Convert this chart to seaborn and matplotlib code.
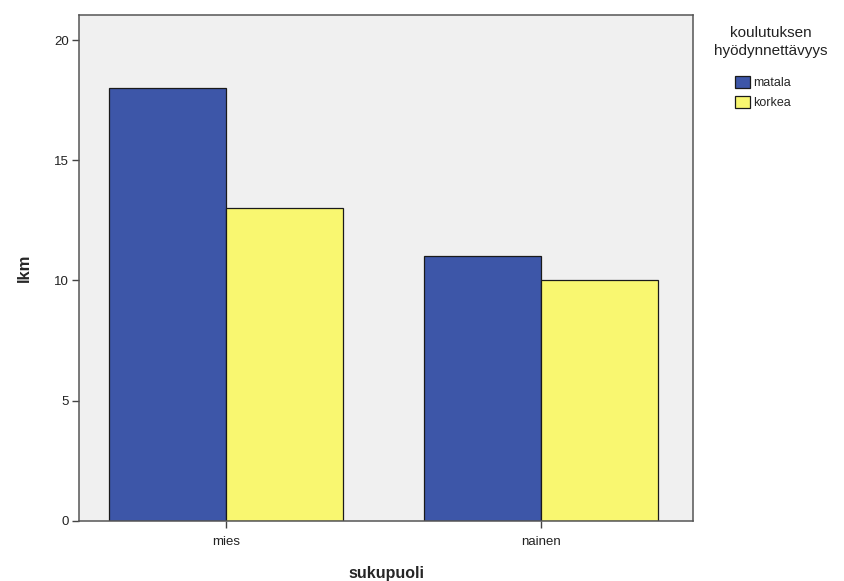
import pandas as pd
import seaborn as sns
from matplotlib import pyplot as plt

# data
sukupuoli = ["mies", "mies", "nainen", "nainen"]
hyodynnettavyys = ["matala", "korkea", "matala", "korkea"]
lkm = [18, 13, 11, 10]

df = pd.DataFrame({"sukupuoli": sukupuoli, "hyöty": hyodynnettavyys, "lkm": lkm})

sns.set_style("white")
plt.rcParams['font.family'] = ['Liberation Sans', 'DejaVu Sans']

fig = plt.figure(figsize=(8.44, 5.81), dpi=100)
ax = fig.add_axes([0.0936, 0.1033, 0.7275, 0.8709])
ax.set_facecolor("#f0f0f0")

sns.barplot(data=df, x="sukupuoli", y="lkm", hue="hyöty",
            palette={"matala": "#3d56a8", "korkea": "#f9f770"},
            width=0.743, edgecolor="#1a1a1a", linewidth=0.9,
            saturation=1, ax=ax)

ax.set_xlim(-0.467, 1.483)
ax.set_ylim(0, 21.04)
ax.set_yticks([0, 5, 10, 15, 20])
ax.tick_params(axis="both", direction="out", length=5, width=1, color="#444444",
               labelsize=9.5, labelcolor="#222222", left=True, bottom=True, pad=2)
ax.tick_params(axis="x", pad=6)
for s in ax.spines.values():
    s.set_color("#555555")
    s.set_linewidth(1.1)

ax.set_xlabel("sukupuoli", fontsize=11.5, fontweight="bold", labelpad=13)
ax.set_ylabel("lkm", fontsize=12, fontweight="bold", labelpad=16)

# legend: title as separate text, entries below it
ax.get_legend().remove()
fig.text(0.913, 1 - 33 / 581, "koulutuksen", ha="center", va="center",
         fontsize=11, color="#222222")
fig.text(0.913, 1 - 51 / 581, "hyödynnettävyys", ha="center", va="center",
         fontsize=11, color="#222222")
handles, labels = ax.get_legend_handles_labels()
fig.legend(handles, labels, loc="upper left", bbox_to_anchor=(0.864, 1 - 70 / 581),
           frameon=False, fontsize=9, handlelength=1.2, handleheight=1.1,
           handletextpad=0.2, labelspacing=0.5, borderpad=0)

fig.savefig("out.png", dpi=100)
